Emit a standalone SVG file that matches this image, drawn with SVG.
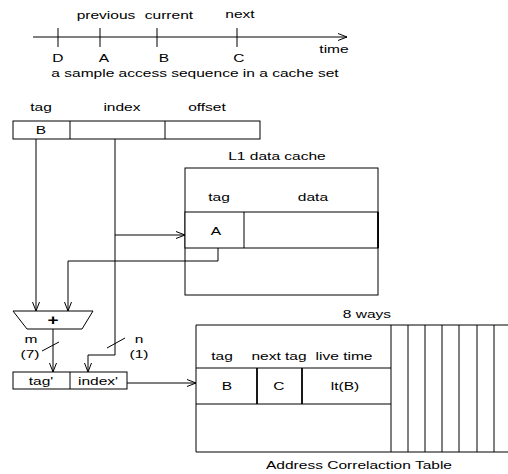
<svg xmlns="http://www.w3.org/2000/svg" width="508" height="474" viewBox="0 0 508 474">
<style>
text{font-family:"Liberation Sans",Arial,sans-serif;font-size:11.5px;fill:#000;text-anchor:middle;transform-box:fill-box;transform-origin:center;transform:scaleX(1.35)}
.l{fill:none;stroke:#000;stroke-width:1}
.b{fill:#fff;stroke:#000;stroke-width:1}
.t{stroke:#000;stroke-width:1.8}
</style>
<defs>
<marker id="ar" markerUnits="userSpaceOnUse" markerWidth="10" markerHeight="9" refX="9" refY="4" orient="auto">
<path d="M0,0.5 L9,4 L0,7.5" fill="none" stroke="#000" stroke-width="1"/>
</marker>
</defs>
<rect width="508" height="474" fill="#fff"/>
<g id="timeline">
<line class="l" x1="33" y1="37" x2="347" y2="37" marker-end="url(#ar)"/>
<line class="l" x1="58" y1="28" x2="58" y2="47"/>
<line class="l" x1="100" y1="28" x2="100" y2="47"/>
<line class="l" x1="157" y1="28" x2="157" y2="47"/>
<line class="l" x1="237" y1="28" x2="237" y2="47"/>
<text x="106" y="19">previous</text>
<text x="169" y="19">current</text>
<text x="240" y="18">next</text>
<text x="58" y="62">D</text>
<text x="104" y="62">A</text>
<text x="164" y="62">B</text>
<text x="239" y="62">C</text>
<text x="334" y="53">time</text>
<text x="195" y="77">a sample access sequence in a cache set</text>
</g>
<g id="address">
<text x="41" y="111">tag</text>
<text x="122" y="111">index</text>
<text x="207" y="111">offset</text>
<rect class="b" x="13" y="121" width="247" height="18"/>
<line class="l" x1="70" y1="121" x2="70" y2="139"/>
<line class="l" x1="165" y1="121" x2="165" y2="139"/>
<text x="41" y="134">B</text>
</g>
<g id="l1cache">
<text x="277" y="160">L1 data cache</text>
<rect class="b" x="185" y="168" width="193" height="127"/>
<rect class="b" x="185" y="212" width="193" height="36"/>
<line class="l" x1="244" y1="212" x2="244" y2="248"/>
<line class="t" x1="378" y1="212" x2="378" y2="248"/>
<text x="219" y="201">tag</text>
<text x="313" y="201">data</text>
<text x="216" y="235">A</text>
</g>
<g id="adder">
<polygon class="b" points="13,311 93,311 82,329 27,329"/>
<text x="53" y="325" style="font-size:14px;font-weight:bold">+</text>
</g>
<g id="newaddr">
<rect class="b" x="13" y="372" width="114" height="17"/>
<line class="l" x1="70" y1="372" x2="70" y2="389"/>
<text x="41" y="385">tag'</text>
<text x="98" y="385">index'</text>
</g>
<g id="act">
<text x="367" y="318">8 ways</text>
<line class="l" x1="196" y1="325" x2="508" y2="325"/>
<line class="l" x1="196" y1="452" x2="508" y2="452"/>
<line class="l" x1="196" y1="325" x2="196" y2="452"/>
<line class="l" x1="391" y1="325" x2="391" y2="452"/>
<line class="l" x1="408" y1="325" x2="408" y2="452"/>
<line class="l" x1="425" y1="325" x2="425" y2="452"/>
<line class="l" x1="442" y1="325" x2="442" y2="452"/>
<line class="l" x1="459" y1="325" x2="459" y2="452"/>
<line class="l" x1="477" y1="325" x2="477" y2="452"/>
<line class="l" x1="494" y1="325" x2="494" y2="452"/>
<line class="l" x1="196" y1="368" x2="391" y2="368"/>
<line class="l" x1="196" y1="404" x2="391" y2="404"/>
<line class="t" x1="257" y1="368" x2="257" y2="404"/>
<line class="t" x1="302" y1="368" x2="302" y2="404"/>
<text x="222" y="360">tag</text>
<text x="279" y="360">next tag</text>
<text x="344" y="360">live time</text>
<text x="227" y="390">B</text>
<text x="279" y="390">C</text>
<text x="345" y="390">lt(B)</text>
<text x="359" y="469">Address Correlaction Table</text>
</g>
<g id="connectors">
<line class="l" x1="36" y1="139" x2="36" y2="311" marker-end="url(#ar)"/>
<polyline class="l" points="115,139 115,235 185,235" marker-end="url(#ar)"/>
<polyline class="l" points="218,248 218,261 68,261 68,311" marker-end="url(#ar)"/>
<polyline class="l" points="115,235 115,355 88,355 88,372" marker-end="url(#ar)"/>
<line class="l" x1="53" y1="329" x2="53" y2="372" marker-end="url(#ar)"/>
<line class="l" x1="127" y1="383" x2="196" y2="383" marker-end="url(#ar)"/>
<line class="l" x1="42" y1="351" x2="59" y2="342"/>
<line class="l" x1="107" y1="348" x2="125" y2="338"/>
<text x="31" y="343">m</text>
<text x="30" y="358">(7)</text>
<text x="139" y="343">n</text>
<text x="139" y="358">(1)</text>
</g>
</svg>
